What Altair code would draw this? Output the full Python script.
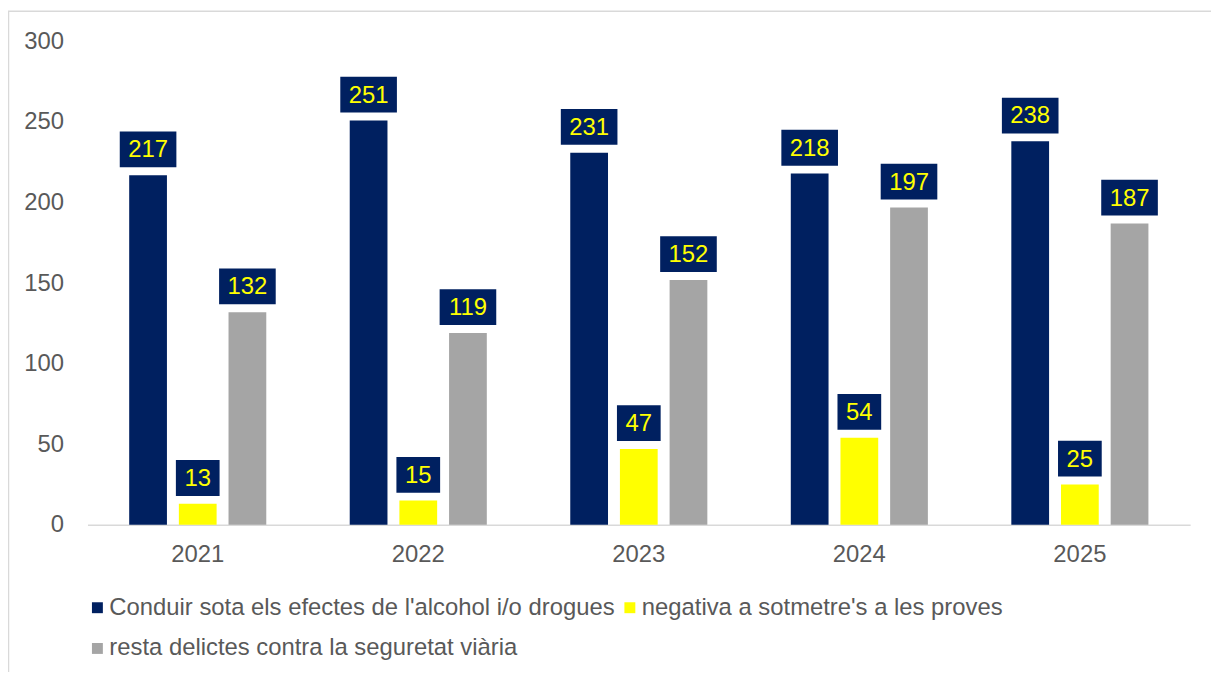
import altair as alt
import pandas as pd

years = ["2021", "2022", "2023", "2024", "2025"]
series = [
    "Conduir sota els efectes de l'alcohol i/o drogues",
    "negativa a sotmetre's a les proves",
    "resta delictes contra la seguretat viària",
]
conduir = [217, 251, 231, 218, 238]
negativa = [13, 15, 47, 54, 25]
resta = [132, 119, 152, 197, 187]
colors = ["#002060", "#FFFF00", "#A5A5A5"]

rows = []
for i, yr in enumerate(years):
    for s, vals in zip(series, [conduir, negativa, resta]):
        rows.append({"year": yr, "serie": s, "value": vals[i]})
df = pd.DataFrame(rows)

FONT = "Liberation Sans"
TXT = "#595959"
FS = 24

x_enc = alt.X("year:N", sort=years, title=None,
              scale=alt.Scale(paddingInner=0, paddingOuter=0),
              axis=alt.Axis(labelAngle=0, labelFontSize=FS, labelFont=FONT, labelColor=TXT,
                            domainColor="#D9D9D9", domainWidth=1.5, ticks=False, labelPadding=18))
xo_enc = alt.XOffset("serie:N", sort=series,
                     scale=alt.Scale(paddingInner=0.24, paddingOuter=0.84))
y_enc = alt.Y("value:Q", title=None,
              scale=alt.Scale(domain=[0, 300]),
              axis=alt.Axis(values=[0, 50, 100, 150, 200, 250, 300], labelFontSize=FS, labelFont=FONT,
                            labelColor=TXT, domain=False, ticks=False, grid=False, labelPadding=24))

base = alt.Chart(df)

bars = base.mark_bar().encode(
    x=x_enc,
    xOffset=xo_enc,
    y=y_enc,
    color=alt.Color("serie:N", sort=series,
                    scale=alt.Scale(domain=series, range=colors),
                    legend=alt.Legend(title=None, orient="none", legendX=-2, legendY=558,
                                      direction="horizontal",
                                      columns=2, symbolType="square", symbolSize=121,
                                      symbolStrokeWidth=0, labelFontSize=FS, labelFont=FONT,
                                      labelColor=TXT, labelOffset=0, columnPadding=3,
                                      rowPadding=17, labelLimit=800)),
)

path3 = "M-1,-0.6316L1,-0.6316L1,0.6316L-1,0.6316Z"
path2 = "M-1,-0.818L1,-0.818L1,0.818L-1,0.818Z"

box3 = base.transform_filter("datum.value >= 100").mark_point(
    shape=path3, size=3249, filled=True, color="#002060", opacity=1, strokeWidth=0, yOffset=-26
).encode(x=alt.X("year:N", sort=years), xOffset=alt.XOffset("serie:N", sort=series), y="value:Q")

box2 = base.transform_filter("datum.value < 100").mark_point(
    shape=path2, size=1936, filled=True, color="#002060", opacity=1, strokeWidth=0, yOffset=-26
).encode(x=alt.X("year:N", sort=years), xOffset=alt.XOffset("serie:N", sort=series), y="value:Q")

labels = base.mark_text(fontSize=FS, font=FONT, color="#FFFF00", baseline="middle",
                        align="center", yOffset=-25).encode(
    x=alt.X("year:N", sort=years), xOffset=alt.XOffset("serie:N", sort=series), y="value:Q",
    text="value:Q")

frame_df = pd.DataFrame({"k": [0]})
top_line = alt.Chart(frame_df).mark_rule(color="#D9D9D9", strokeWidth=1.5).encode(
    x=alt.value(-80), x2=alt.value(1131), y=alt.value(-30.5))
left_line = alt.Chart(frame_df).mark_rule(color="#D9D9D9", strokeWidth=1.5).encode(
    x=alt.value(-79.5), y=alt.value(-30.5), y2=alt.value(640))

chart = alt.layer(bars, box3, box2, labels, top_line, left_line).properties(
    width=1110, height=486.5,
    padding={"left": 80, "top": 31.5, "right": 21, "bottom": 146},
    autosize=alt.AutoSizeParams(type="none"),
).configure_view(stroke=None)

chart.save("out.html", embed_options={"renderer": "svg", "actions": False})
